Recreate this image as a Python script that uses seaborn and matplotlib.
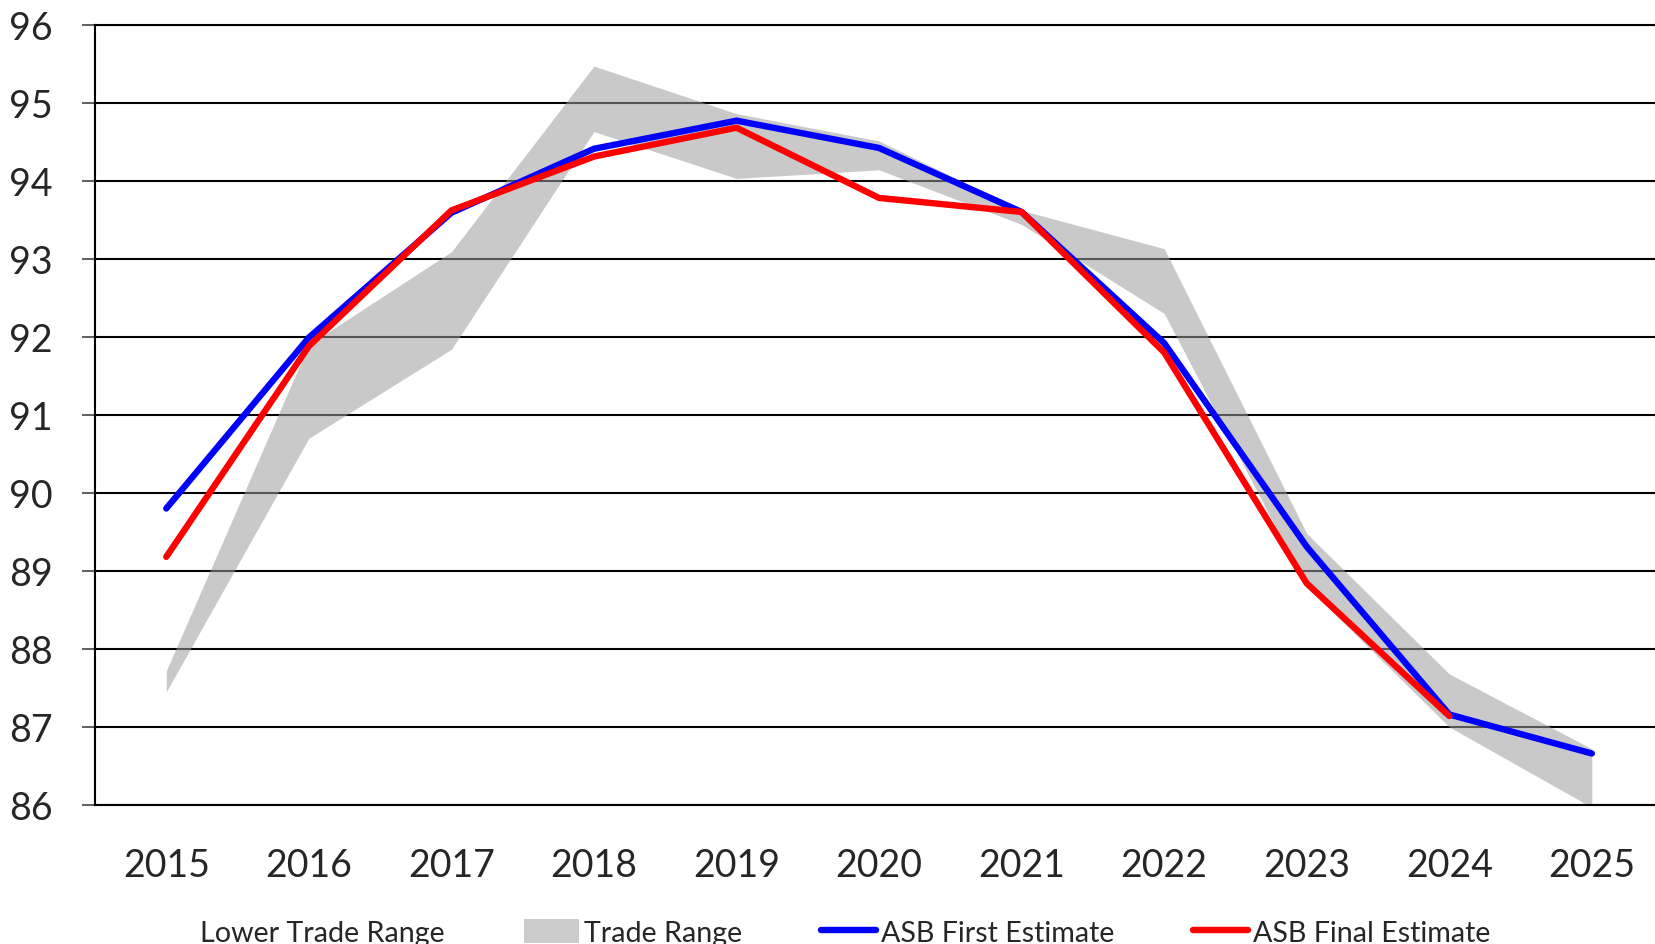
import numpy as np
import pandas as pd
import seaborn as sns
import matplotlib.pyplot as plt
from matplotlib.patches import Patch
from matplotlib.lines import Line2D

# -------------------------------------------------------------------------
# Trade range vs ASB estimates, 2015-2025
# -------------------------------------------------------------------------
years = [2015, 2016, 2017, 2018, 2019, 2020, 2021, 2022, 2023, 2024, 2025]

# Trade range (grey band)
trade_low = [87.45, 90.70, 91.84, 94.63, 94.03, 94.14, 93.44, 92.30, 88.80, 87.00, 85.97]
trade_high = [87.72, 91.90, 93.09, 95.47, 94.86, 94.51, 93.62, 93.13, 89.48, 87.68, 86.72]

# ASB estimates
first_est = [89.80, 91.99, 93.59, 94.41, 94.77, 94.42, 93.60, 91.92, 89.31, 87.16, 86.66]
final_est = [89.18, 91.88, 93.62, 94.31, 94.68, 93.78, 93.60, 91.80, 88.84, 87.14, np.nan]

df = pd.DataFrame({
    'Year': years,
    'ASB First Estimate': first_est,
    'ASB Final Estimate': final_est,
})

sns.set_style('white')
plt.rcParams['font.family'] = ['Lato', 'DejaVu Sans']

fig = plt.figure(figsize=(16.56, 9.45), dpi=100)
ax = fig.add_axes([95 / 1656, 1 - 806 / 945, 1 - 95 / 1656, (806 - 25.7) / 945])

ax.set_axisbelow(True)
ax.grid(axis='y', color='black', linewidth=1.5)
ax.grid(axis='x', visible=False)

ax.fill_between(years, trade_low, trade_high, color=(0.62, 0.62, 0.62),
                alpha=0.55, linewidth=0, zorder=1)

line_kw = dict(linewidth=4.6, solid_capstyle='round', solid_joinstyle='round', zorder=3)
sns.lineplot(data=df, x='Year', y='ASB First Estimate', color='#0000FF', ax=ax, **line_kw)
sns.lineplot(data=df, x='Year', y='ASB Final Estimate', color='#FF0000', ax=ax, **line_kw)

ax.set_xlim(2014.5, 2025.45)
ax.set_ylim(86, 96)
ax.set_xticks(years)
ax.set_yticks(range(86, 97))
ax.set_xlabel('')
ax.set_ylabel('')

ax.spines['right'].set_visible(False)
for side in ['left', 'top', 'bottom']:
    ax.spines[side].set_color('black')
    ax.spines[side].set_linewidth(1.5)

ax.tick_params(axis='x', length=0, pad=30, labelsize=27)
ax.tick_params(axis='y', length=9.4, width=1.2, color='#444444', direction='out',
               pad=21, labelsize=27, left=True)

handles = [
    Patch(facecolor='none', edgecolor='none'),
    Patch(facecolor='#CCCCCC', edgecolor='none'),
    Line2D([0], [0], color='#0000FF', linewidth=4.6, solid_capstyle='round'),
    Line2D([0], [0], color='#FF0000', linewidth=4.6, solid_capstyle='round'),
]
labels = ['Lower Trade Range', 'Trade Range', 'ASB First Estimate', 'ASB Final Estimate']
fig.legend(handles, labels, loc='center', bbox_to_anchor=(0.4925, 0.012), ncol=4,
           frameon=False, fontsize=20.6, handlelength=1.9, handleheight=0.9,
           handletextpad=0.17, columnspacing=2.78, borderpad=0, borderaxespad=0)

fig.savefig('out.png', dpi=100)
